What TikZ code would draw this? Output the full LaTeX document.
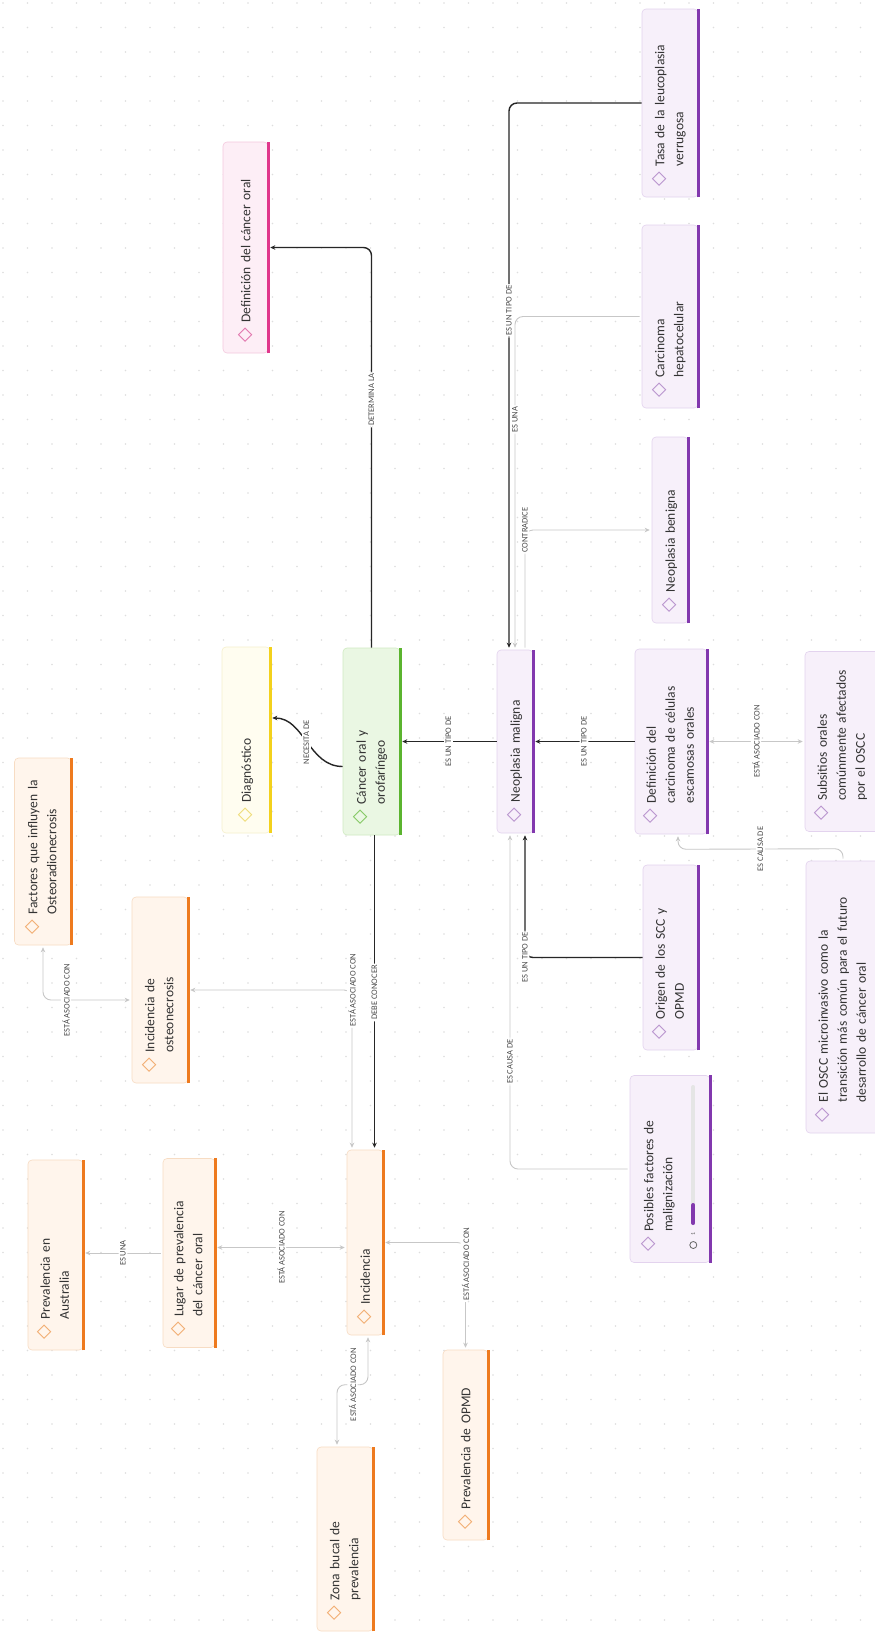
\documentclass[tikz,border=0pt]{standalone}
\usepackage{fontspec}
\setmainfont{Carlito}
\newfontfamily\diafont{DejaVu Sans}
\usetikzlibrary{arrows.meta, positioning, calc}

\definecolor{fillpink}{HTML}{FDEEF6}   \definecolor{linepink}{HTML}{F4C9DE}
\definecolor{barpink}{HTML}{E0378C}    \definecolor{diapink}{HTML}{E070AA}
\definecolor{fillpurple}{HTML}{F7F0FA} \definecolor{linepurple}{HTML}{E3D3EE}
\definecolor{barpurple}{HTML}{8238AE}  \definecolor{diapurple}{HTML}{B690CC}
\definecolor{fillyellow}{HTML}{FFFDF0} \definecolor{lineyellow}{HTML}{F6F0CC}
\definecolor{baryellow}{HTML}{F3D11C}  \definecolor{diayellow}{HTML}{EEDB73}
\definecolor{fillgreen}{HTML}{EAF7E3}  \definecolor{linegreen}{HTML}{CFEBC1}
\definecolor{bargreen}{HTML}{5BB42F}   \definecolor{diagreen}{HTML}{7FC65D}
\definecolor{fillorange}{HTML}{FFF5EC} \definecolor{lineorange}{HTML}{F7DCC3}
\definecolor{barorange}{HTML}{EE7A1E}  \definecolor{diaorange}{HTML}{F1AA6C}

\newcommand{\topicfont}{\fontsize{13.5}{19}\selectfont}
\newcommand{\relfont}{\fontsize{8.5}{9}\selectfont}
\newcommand{\dia}[1]{{\fontsize{19}{19}\diafont\textcolor{#1}{◇}}\hspace{5pt}}
\newcommand{\tlines}[1]{\begin{tabular}[t]{@{}l@{}}#1\end{tabular}}

\begin{document}
\begin{tikzpicture}[x=1pt, y=-1pt, line join=round,
    topic/.style={rotate=90, rounded corners=4pt, draw=line#1, fill=fill#1,
      line width=0.6pt, inner xsep=11pt, inner ysep=3pt, align=left,
      font=\topicfont, text=black!80},
    strong/.style={draw=black!85, line width=1.4pt, rounded corners=8pt, shorten >=2pt},
    soft/.style={draw=black!22, line width=0.9pt, rounded corners=8pt, shorten >=2pt, shorten <=2pt},
    rel/.style={rotate=90, fill=white, font=\relfont, text=black!70, inner sep=1.5pt},
    >={Stealth[length=5pt, width=4.5pt]}]
  \useasboundingbox (0,0) rectangle (875,1634);
  \fill[white] (0,0) rectangle (875,1634);
  % dotted board
  \foreach \gx in {3,27.5,...,875}
    \foreach \gy in {3,27.5,...,1634}
      \fill[black!13] (\gx,\gy) circle (0.8);

  % ================= top row =================
  \node[topic=pink, text width=189pt, minimum height=45pt] (defcan) at (245.5,247.5)
    {\dia{diapink}Definición del cáncer oral};
  \node[topic=purple, text width=166pt, minimum height=56pt] (tasa) at (670,103)
    {\dia{diapurple}\tlines{Tasa de la leucoplasia\\verrugosa}};
  \node[topic=purple, text width=161pt, minimum height=56pt] (carhep) at (670,316.5)
    {\dia{diapurple}\tlines{Carcinoma\\hepatocelular}};
  \node[topic=purple, text width=164pt, minimum height=36pt] (neoben) at (670,530)
    {\dia{diapurple}Neoplasia benigna};

  % ================= middle row =================
  \node[topic=yellow, text width=164pt, minimum height=48pt] (diag) at (246,740)
    {\dia{diayellow}Diagnóstico};
  \node[topic=green, text width=165pt, minimum height=57pt] (cancer) at (371.5,741.5)
    {\dia{diagreen}\tlines{Cáncer oral y\\orofaríngeo}};
  \node[topic=purple, text width=161pt, minimum height=36pt] (neomal) at (515,741.5)
    {\dia{diapurple}Neoplasia maligna};
  \node[topic=purple, text width=163pt, minimum height=72pt] (defcar) at (671,741.5)
    {\dia{diapurple}\tlines{Definición del\\carcinoma de células\\escamosas orales}};
  \node[topic=purple, text width=158pt, minimum height=74pt] (subs) at (842,741.5)
    {\dia{diapurple}\tlines{Subsitios orales\\comúnmente afectados\\por el OSCC}};

  % ================= lower rows =================
  \node[topic=orange, text width=165pt, minimum height=57pt] (factores) at (43,851.5)
    {\dia{diaorange}\tlines{Factores que influyen la\\Osteoradionecrosis}};
  \node[topic=orange, text width=164pt, minimum height=56pt] (incost) at (160,990)
    {\dia{diaorange}\tlines{Incidencia de\\osteonecrosis}};
  \node[topic=purple, text width=163pt, minimum height=55pt] (origen) at (670.5,957.5)
    {\dia{diapurple}\tlines{Origen de los SCC y\\OPMD}};
  \node[topic=purple, text width=250pt, minimum height=74pt] (oscc) at (843,997)
    {\dia{diapurple}\tlines{El OSCC microinvasivo como la\\transición más común para el futuro\\desarrollo de cáncer oral}};
  \node[topic=purple, text width=165pt, minimum height=80pt] (posib) at (670,1169)
    {\dia{diapurple}\tlines{Posibles factores de\\malignización\\[22pt]}};
  \node[topic=orange, text width=168pt, minimum height=55pt] (prevaus) at (55.5,1255)
    {\dia{diaorange}\tlines{Prevalencia en\\Australia}};
  \node[topic=orange, text width=167pt, minimum height=52pt] (lugar) at (189,1253)
    {\dia{diaorange}\tlines{Lugar de prevalencia\\del cáncer oral}};
  \node[topic=orange, text width=163pt, minimum height=36pt] (incid) at (365,1242.5)
    {\dia{diaorange}Incidencia};
  \node[topic=orange, text width=168pt, minimum height=45pt] (prevop) at (465.5,1445)
    {\dia{diaorange}Prevalencia de OPMD};
  \node[topic=orange, text width=162pt, minimum height=56pt] (zona) at (345,1539)
    {\dia{diaorange}\tlines{Zona bucal de\\prevalencia}};

  % coloured edge of every card
  \foreach \n/\col in {defcan/pink, tasa/purple, carhep/purple, neoben/purple,
      diag/yellow, cancer/green, neomal/purple, defcar/purple, subs/purple,
      factores/orange, incost/orange, origen/purple, oscc/purple, posib/purple,
      prevaus/orange, lugar/orange, incid/orange, prevop/orange, zona/orange}
    \draw[line width=3pt, bar\col] (\n.south west) -- (\n.south east);

  % progress row of the factors card
  \draw[line width=4pt, line cap=round, black!10] ($(posib.south)+(-17,-82)$) -- ($(posib.south)+(-17,54)$);
  \draw[line width=4pt, line cap=round, barpurple] ($(posib.south)+(-17,36)$) -- ($(posib.south)+(-17,54)$);
  \draw[black!60, line width=0.8pt] ($(posib.south)+(-17,76)$) circle (3.5);
  \node[rotate=90, font=\fontsize{6}{6}\selectfont, text=black!60, inner sep=0pt] (posibcnt)
    at ($(posib.south)+(-17,65)$) {1};

  % ================= strong links =================
  \draw[strong,->] (cancer.east) |- node[rel, pos=0.31]{DETERMINA LA} (defcan.south);
  \draw[strong,->] ($(cancer.north)+(0,25)$) to[out=180, in=0]
    node[rel]{NECESITA DE} ($(diag.south)+(0,-22)$);
  \draw[strong,->] (neomal.north) -- node[rel]{ES UN TIPO DE} (cancer.south);
  \draw[strong,->] (defcar.north) -- node[rel]{ES UN TIPO DE} (neomal.south);
  \draw[strong,->] (tasa.north) -| node[rel, pos=0.69]{ES UN TIPO DE} ($(neomal.east)+(-6,0)$);
  \draw[strong,->] (origen.north) -| node[rel]{ES UN TIPO DE} ($(neomal.west)+(10,0)$);
  \draw[strong,->] ($(cancer.west)+(3,0)$) -- node[rel]{DEBE CONOCER} ($(incid.east)+(9.5,0)$);

  % ================= soft links =================
  \draw[soft,->] (carhep.north) -| node[rel, pos=0.655]{ES UNA} (neomal.east);
  \draw[soft,->] ($(neomal.east)+(10,0)$) |- node[rel]{CONTRADICE} (neoben.north);
  \draw[soft,<->] (defcar.south) -- node[rel]{ESTÁ ASOCIADO CON} (subs.north);
  \draw[soft,->] (oscc.east) -- ++(0,-12) -- node[rel]{ES CAUSA DE}
    ($(defcar.west)+(7,15)$) -- ($(defcar.west)+(7,0)$);
  \draw[soft,->] (posib.north) -| node[rel, pos=0.66]{ES CAUSA DE} ($(neomal.west)+(-5,0)$);
  \draw[soft,<->] ($(incid.east)+(-13,0)$) |- node[rel]{ESTÁ ASOCIADO CON} (incost.south);
  \draw[soft,<->] ($(incost.north)+(0,10)$) -| node[rel, pos=0.37]{ESTÁ ASOCIADO CON} (factores.west);
  \draw[soft,<->] ($(incid.north)+(0,5)$) -- node[rel]{ESTÁ ASOCIADO CON} ($(lugar.south)+(0,-5.5)$);
  \draw[soft,->] (lugar.north) -- node[rel]{ES UNA} (prevaus.south |- lugar.north);
  \draw[soft,<->] (incid.south) -| node[rel, pos=0.6]{ESTÁ ASOCIADO CON} (prevop.east);
  \draw[soft,<->] ($(incid.west)+(3,0)$) |- node[rel, pos=0.75]{ESTÁ ASOCIADO CON}
    ($(zona.east)+(-8,-62)$) -- ($(zona.east)+(-8,0)$);
\end{tikzpicture}
\end{document}
